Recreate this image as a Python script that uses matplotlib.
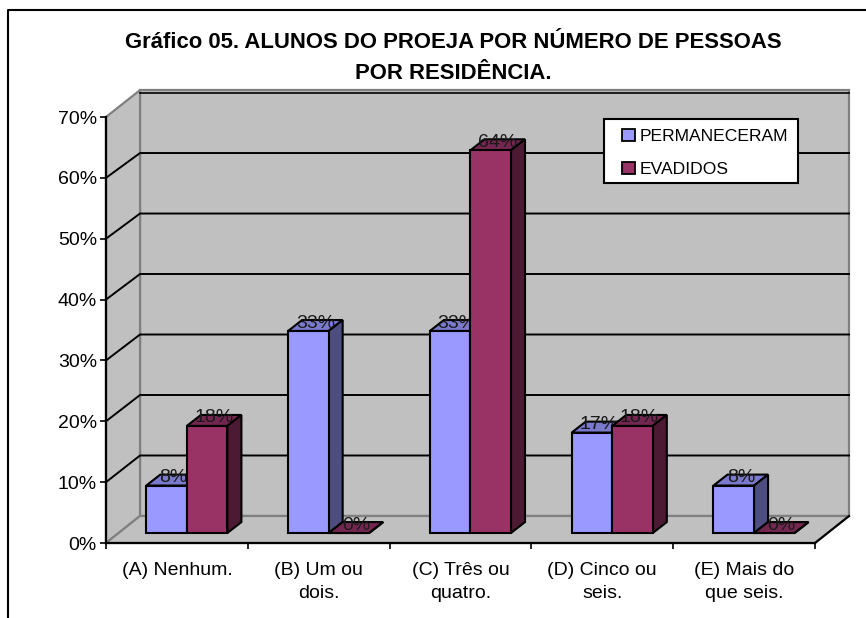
import matplotlib
matplotlib.use('Agg')
import matplotlib.pyplot as plt
from matplotlib.patches import Rectangle

categories = ["(A) Nenhum.", "(B) Um ou\ndois.", "(C) Três ou\nquatro.", "(D) Cinco ou\nseis.", "(E) Mais do\nque seis."]
permaneceram = [7.8, 33.2, 33.2, 16.5, 7.8]
evadidos = [17.6, 0, 62.9, 17.6, 0]
permaneceram_labels = ["8%", "33%", "33%", "17%", "8%"]
evadidos_labels = ["18%", "0%", "64%", "18%", "0%"]
yticks = [0, 10, 20, 30, 40, 50, 60, 70]

plt.rcParams['font.family'] = ['Liberation Sans', 'DejaVu Sans']

W, H = 866, 618
fig = plt.figure(figsize=(W / 100, H / 100), dpi=100, facecolor='white')
ax = fig.add_axes([106 / W, 1 - 543 / H, (815 - 106) / W, (543 - 117) / H])
ax.set_xlim(0, 5)
ax.set_ylim(0, 70)
ax.patch.set_visible(False)

# depth of the fake 3D box, in data units
back_x, back_y = 0.24, 4.44
back_scale = 0.994
bar_x, bar_y = 0.099, 1.8
base = 1.64
width = 0.286
wall = '#c0c0c0'
grey = '#808080'


def back(v):
    return back_y + v * back_scale


# walls and floor
ax.fill([back_x, 5 + back_x, 5 + back_x, back_x], [back(0), back(0), back(70.4), back(70.4)],
        facecolor=wall, edgecolor=grey, lw=1.6, clip_on=False, zorder=1)
ax.fill([0, back_x, back_x, 0], [0, back(0), back(70.4), 70],
        facecolor=wall, edgecolor=grey, lw=1.6, clip_on=False, zorder=1)
ax.fill([0, 5, 5 + back_x, back_x], [0, 0, back(0), back(0)],
        facecolor=wall, edgecolor=grey, lw=1.6, clip_on=False, zorder=1)
ax.plot([5, 5 + back_x], [0, back(0)], color='black', lw=1.5, clip_on=False, zorder=2)

for v in yticks[1:-1]:
    ax.plot([0, back_x, 5 + back_x], [v, back(v), back(v)], color='black', lw=1.4,
            clip_on=False, zorder=2)
ax.plot([back_x, 5 + back_x], [back(70), back(70)], color='black', lw=1.2, clip_on=False, zorder=2)


def draw_bar(x, value, label, face, top, side, z):
    y1 = base + value
    x1 = x + width
    ax.bar(x, value, width, bottom=base, align='edge', color=face, edgecolor='black', lw=1.5, zorder=z + 1)
    ax.fill([x, x1, x1 + bar_x, x + bar_x], [y1, y1, y1 + bar_y, y1 + bar_y],
            facecolor=top, edgecolor='black', lw=1.5, zorder=z)
    ax.fill([x1, x1 + bar_x, x1 + bar_x, x1], [base, base + bar_y, y1 + bar_y, y1],
            facecolor=side, edgecolor='black', lw=1.5, zorder=z)
    ax.text(x + width / 2 + bar_x / 2, y1 + bar_y / 2 + 0.4, label, ha='center', va='center',
            fontsize=14, color='#1a1a1a', zorder=z + 1.5)


colors_a = ('#9999ff', '#7a7acc', '#4d4d80')
colors_b = ('#993366', '#732650', '#4d1a33')
for i in range(5):
    left = i + 0.5 + 0.07 - width
    draw_bar(left, permaneceram[i], permaneceram_labels[i], *colors_a, 10 + i * 10)
    draw_bar(left + width, evadidos[i], evadidos_labels[i], *colors_b, 13 + i * 10)

# axes
for s in ('top', 'right'):
    ax.spines[s].set_visible(False)
for s in ('left', 'bottom'):
    ax.spines[s].set_linewidth(1.6)
    ax.spines[s].set_zorder(3)
ax.set_yticks(yticks)
ax.set_yticklabels([f"{v}%" for v in yticks])
ax.set_xticks(range(6))
ax.set_xticklabels([])
ax.set_xticks([i + 0.5 for i in range(5)], minor=True)
ax.set_xticklabels(categories, minor=True, linespacing=1.4)
ax.tick_params(axis='y', length=4.5, width=1.2, labelsize=14, pad=2, colors='black')
ax.tick_params(axis='x', which='major', length=4.5, width=1.2)
ax.tick_params(axis='x', which='minor', length=0, labelsize=14, pad=14)

# legend, box drawn apart since its padding is wider than it is tall
ax.add_patch(Rectangle(((604 - 106) / 709, (543 - 183) / 426), 194 / 709, 64 / 426, transform=ax.transAxes,
                       facecolor='white', edgecolor='black', lw=1.5, clip_on=False, zorder=99))
h1 = Rectangle((0, 0), 1, 1, facecolor=colors_a[0], edgecolor='black', lw=1.3)
h2 = Rectangle((0, 0), 1, 1, facecolor=colors_b[0], edgecolor='black', lw=1.3)
leg = ax.legend([h1, h2], ["PERMANECERAM", "EVADIDOS"], loc='upper left',
                bbox_to_anchor=((622 - 106) / 709, (543 - 129) / 426), fontsize=12.6,
                frameon=False, handlelength=0.72, handleheight=0.72, handletextpad=0.28,
                labelspacing=1.0, borderaxespad=0, borderpad=0)
leg.set_zorder(100)

# title and outer frame
fig.text(453 / W, 1 - 58 / H, "Gráfico 05. ALUNOS DO PROEJA POR NÚMERO DE PESSOAS\nPOR RESIDÊNCIA.",
         ha='center', va='center', fontsize=15.9, fontweight='bold', linespacing=1.6)
fig.add_artist(plt.Line2D([8 / W, 8 / W, 1], [0, 1 - 10 / H, 1 - 10 / H],
                          color='black', lw=1.5))

fig.savefig('out.png', dpi=100)
